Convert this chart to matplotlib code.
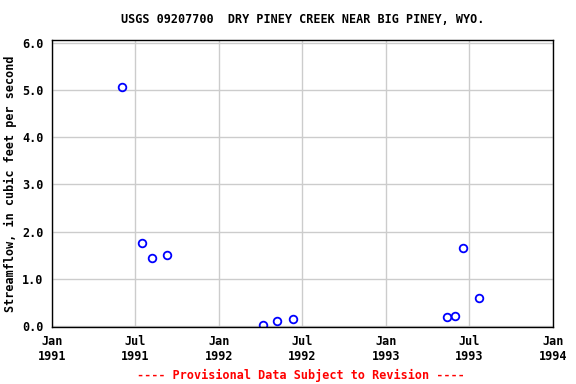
import matplotlib
matplotlib.use("Agg")
import matplotlib.pyplot as plt
import pandas as pd

# measurement dates and streamflow (cfs)
dates = pd.to_datetime([
    "1991-06-04", "1991-07-16", "1991-08-07", "1991-09-09",
    "1992-04-06", "1992-05-07", "1992-06-11",
    "1993-05-14", "1993-06-01", "1993-06-18", "1993-07-23",
])
flow = [5.06, 1.76, 1.44, 1.50, 0.02, 0.10, 0.15, 0.19, 0.21, 1.65, 0.59]

tick_dates = pd.to_datetime(["1991-01-01", "1991-07-01", "1992-01-01", "1992-07-01",
                             "1993-01-01", "1993-07-01", "1994-01-01"])
tick_labels = ["Jan\n1991", "Jul\n1991", "Jan\n1992", "Jul\n1992",
               "Jan\n1993", "Jul\n1993", "Jan\n1994"]

plt.rcParams["font.family"] = "DejaVu Sans Mono"
plt.rcParams["font.weight"] = "bold"

fig = plt.figure(figsize=(5.76, 3.84), dpi=100)
ax = fig.add_axes([52 / 576, 1 - 327 / 384, 501 / 576, 287 / 384])

ax.plot(dates, flow, linestyle="none", marker="o", markersize=5.5,
        markerfacecolor="none", markeredgecolor="blue", markeredgewidth=1.3)

ax.set_xlim(tick_dates[0], tick_dates[-1])
ax.set_ylim(-0.02, 6.06)
ax.set_xticks(tick_dates)
ax.set_xticklabels(tick_labels, fontsize=8.5, fontweight="bold")
ax.set_yticks([0, 1, 2, 3, 4, 5, 6])
ax.set_yticklabels([f"{v:.1f}" for v in range(7)], fontsize=8.5, fontweight="bold")
ax.tick_params(length=0, pad=6)
ax.grid(True, color="#cccccc", linewidth=1)
ax.set_axisbelow(True)
for s in ax.spines.values():
    s.set_linewidth(1)
    s.set_color("black")

ax.set_ylabel("Streamflow, in cubic feet per second", fontsize=8.5,
              fontweight="bold", labelpad=4)
ax.set_title("USGS 09207700  DRY PINEY CREEK NEAR BIG PINEY, WYO.",
             fontsize=8.5, fontweight="bold", pad=12)
fig.text(301 / 576, 1 - 375 / 384, "---- Provisional Data Subject to Revision ----",
         ha="center", va="center", color="red", fontsize=8.5, fontweight="bold")

fig.savefig("out.png", dpi=100)
